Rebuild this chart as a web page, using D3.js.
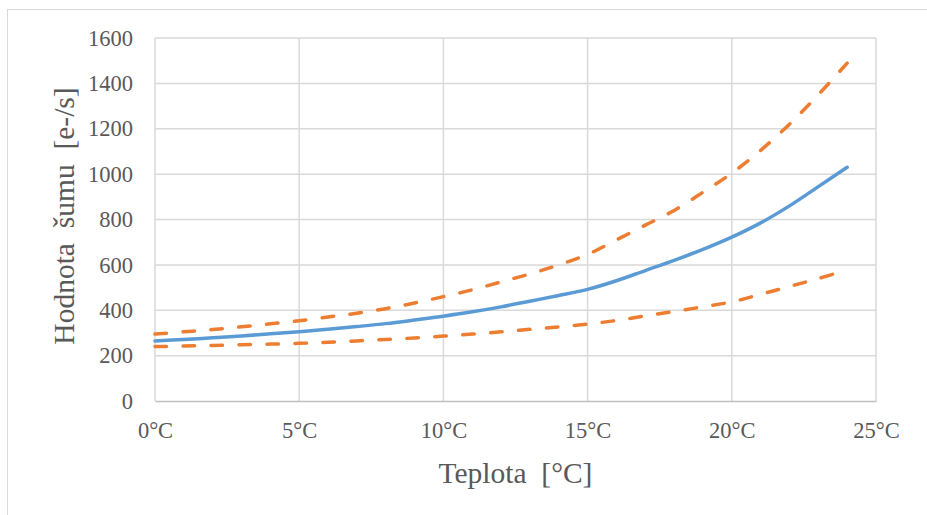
<!DOCTYPE html>
<html>
<head>
<meta charset="utf-8">
<script src="https://cdn.jsdelivr.net/npm/d3@7"></script>
<style>
  body { margin: 0; background: #fff; }
  text { font-family: "Liberation Serif", "Times New Roman", serif; fill: #595959; }
</style>
</head>
<body>
<div id="chart"></div>
<script>
var width = 927,
    height = 515;

// temperatures (°C)
var temps = [0, 1, 2, 3, 4, 5, 6, 7, 8, 9, 10, 11, 12, 13, 14, 15, 16, 17, 18, 19, 20, 21, 22, 23, 24];
// noise value [e-/s]
var noiseMean = [265, 271, 279, 287, 296, 305, 316, 328, 341, 357, 374, 393, 415, 440, 465, 492, 530, 575, 620, 668, 722, 785, 860, 945, 1030];
var noiseUpper = [295, 305, 315, 327, 340, 354, 370, 387, 407, 432, 460, 490, 525, 560, 600, 646, 710, 775, 840, 920, 1004, 1105, 1220, 1350, 1489];
var noiseLower = [240, 242, 245, 248, 251, 254, 259, 265, 271, 278, 286, 295, 305, 316, 327, 339, 355, 375, 395, 415, 437, 470, 505, 540, 577];

var xTicks = [0, 5, 10, 15, 20, 25];
var yTicks = [0, 200, 400, 600, 800, 1000, 1200, 1400, 1600];

var plot = { left: 155, right: 876, top: 38, bottom: 401 };

var svg = d3.select("#chart")
    .append("svg")
    .attr("width", width)
    .attr("height", height);

// chart area border
svg.append("rect")
    .attr("x", 7.5)
    .attr("y", 9.5)
    .attr("width", width)
    .attr("height", height)
    .attr("fill", "none")
    .attr("stroke", "#d9d9d9");

var x = d3.scaleLinear().domain([0, 25]).range([plot.left, plot.right]);
var y = d3.scaleLinear().domain([0, 1600]).range([plot.bottom, plot.top]);

// horizontal gridlines
svg.append("g")
    .selectAll("line")
    .data(yTicks.slice(1))
    .enter()
    .append("line")
    .attr("x1", plot.left)
    .attr("x2", plot.right)
    .attr("y1", function (d) { return y(d); })
    .attr("y2", function (d) { return y(d); })
    .attr("stroke", "#d9d9d9")
    .attr("stroke-width", 1.5);

// vertical gridlines
svg.append("g")
    .selectAll("line")
    .data(xTicks)
    .enter()
    .append("line")
    .attr("x1", function (d) { return x(d); })
    .attr("x2", function (d) { return x(d); })
    .attr("y1", plot.top)
    .attr("y2", plot.bottom)
    .attr("stroke", "#d9d9d9")
    .attr("stroke-width", 1.5);

// x axis
var xAxis = svg.append("g")
    .attr("transform", "translate(0," + plot.bottom + ")")
    .call(d3.axisBottom(x).tickValues(xTicks).tickSize(0).tickPadding(21)
        .tickFormat(function (d) { return d + "°C"; }));
xAxis.select(".domain").attr("stroke", "#bfbfbf").attr("stroke-width", 1.5);
xAxis.selectAll("text")
    .attr("font-size", 22.5)
    .attr("fill", "#595959");

// y axis
var yAxis = svg.append("g")
    .attr("transform", "translate(" + plot.left + ",0)")
    .call(d3.axisLeft(y).tickValues(yTicks).tickSize(0).tickPadding(22)
        .tickFormat(d3.format("d")));
yAxis.select(".domain").remove();
yAxis.selectAll("text")
    .attr("font-size", 22.5)
    .attr("fill", "#595959");

// series
var line = d3.line()
    .x(function (d) { return x(d[0]); })
    .y(function (d) { return y(d[1]); })
    .curve(d3.curveCatmullRom);

var series = [
    { values: noiseUpper, color: "#ed7d31", dash: "11.5,16.5" },
    { values: noiseLower, color: "#ed7d31", dash: "11.5,16.5" },
    { values: noiseMean, color: "#5b9bd5", dash: null }
];

svg.append("g")
    .selectAll("path")
    .data(series)
    .enter()
    .append("path")
    .attr("d", function (s) { return line(d3.zip(temps, s.values)); })
    .attr("fill", "none")
    .attr("stroke", function (s) { return s.color; })
    .attr("stroke-width", 3.5)
    .attr("stroke-linecap", "round")
    .attr("stroke-dasharray", function (s) { return s.dash; });

// axis titles
svg.append("text")
    .attr("x", (plot.left + plot.right) / 2)
    .attr("y", 483)
    .attr("text-anchor", "middle")
    .attr("font-size", 29.5)
    .style("white-space", "pre")
    .text("Teplota  [°C]");

svg.append("text")
    .attr("transform", "translate(74," + 216 + ") rotate(-90)")
    .attr("text-anchor", "middle")
    .attr("font-size", 29.5)
    .style("white-space", "pre")
    .text("Hodnota  šumu  [e-/s]");
</script>
</body>
</html>
